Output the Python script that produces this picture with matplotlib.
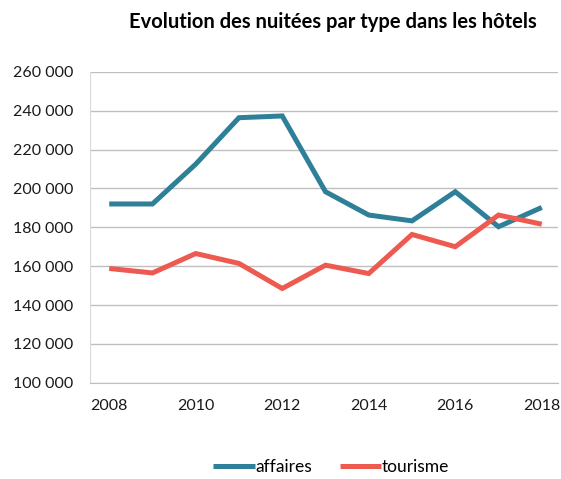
import numpy as np
import matplotlib.pyplot as plt
from matplotlib.ticker import FuncFormatter

plt.rcParams['font.family'] = ['Lato', 'DejaVu Sans']

years = [2008, 2009, 2010, 2011, 2012, 2013, 2014, 2015, 2016, 2017, 2018]
affaires = [192000, 192000, 212500, 236400, 237300, 198300, 186300, 183300, 198300, 180300, 190200]
tourisme = [158800, 156500, 166500, 161400, 148500, 160500, 156200, 176300, 170000, 186300, 181600]

fig = plt.figure(figsize=(5.61, 4.79), dpi=100)
ax = fig.add_axes([0.160, 0.201, 0.835, 0.649])

ax.plot(years, affaires, color='#2E7F98', lw=3.6, solid_capstyle='butt', solid_joinstyle='miter', label='affaires')
ax.plot(years, tourisme, color='#EE5A50', lw=3.6, solid_capstyle='butt', solid_joinstyle='miter', label='tourisme')

ax.set_ylim(100000, 260000)
ax.set_yticks(np.arange(100000, 260001, 20000))
ax.set_xlim(2007.55, 2018.38)
ax.set_xticks([2008, 2010, 2012, 2014, 2016, 2018])
ax.yaxis.set_major_formatter(FuncFormatter(lambda v, p: f'{int(v):,}'.replace(',', ' ')))
ax.grid(axis='y', color='#BFBFBF', lw=1)
ax.set_axisbelow(True)
for s in ['top', 'right']:
    ax.spines[s].set_visible(False)
ax.spines['left'].set_color('#D9D9D9')
ax.spines['bottom'].set_color('#BFBFBF')
ax.tick_params(length=0, labelsize=11.5, colors='#1a1a1a')
ax.tick_params(axis='y', pad=12)
ax.tick_params(axis='x', pad=12)

fig.text(0.594, 0.954, 'Evolution des nuitées par type dans les hôtels',
         ha='center', va='center', fontsize=14.5, fontweight='bold')
fig.legend(loc='center', bbox_to_anchor=(0.59, 0.025), ncol=2, frameon=False,
           fontsize=12.5, handlelength=2.4, handletextpad=0.0, columnspacing=1.6)

plt.savefig('out.png', dpi=100)
